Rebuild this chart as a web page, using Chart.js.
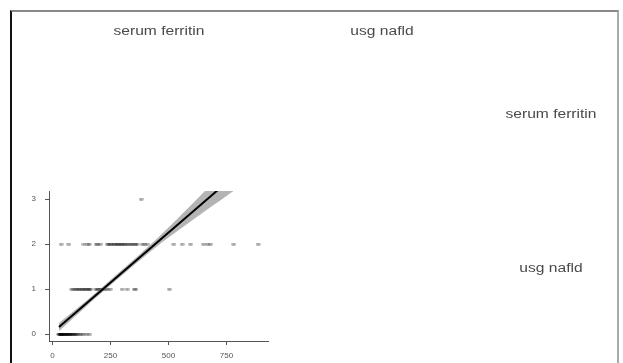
<!DOCTYPE html>
<html>
<head>
<meta charset="utf-8">
<script src="https://cdn.jsdelivr.net/npm/chart.js@4"></script>
<style>
  body { margin: 0; background: #fff; }
  #wrap { position: relative; width: 623px; height: 363px; overflow: hidden; }
  #frame {
    position: absolute; left: 10px; top: 10px; width: 605px; height: 360px;
    border-left: 2px solid #111; border-top: 2px solid #888; border-right: 2px solid #aaa;
  }
  canvas { position: absolute; left: 0; top: 0; }
  .lbl {
    position: absolute; font-family: "Liberation Sans", Arial, sans-serif;
    font-size: 12px; color: #4a4a4a; white-space: nowrap;
    transform: translate(-50%, -50%) scaleX(1.3);
  }
</style>
</head>
<body>
<div id="wrap">
  <div id="frame"></div>
  <canvas id="c" width="623" height="363"></canvas>
  <div class="lbl" style="left:159px; top:31px;">serum ferritin</div>
  <div class="lbl" style="left:382px; top:31px;">usg nafld</div>
  <div class="lbl" style="left:551px; top:114px;">serum ferritin</div>
  <div class="lbl" style="left:551px; top:268px;">usg nafld</div>
</div>
<script>
// serum ferritin values, grouped by usg nafld grade
const ferritinGrade0 = [28, 30, 32, 34, 35, 37, 38, 40, 42, 44, 45, 47, 50, 52, 55, 57, 60, 62, 65, 68, 70, 72, 75, 78, 80, 85, 88, 92, 96, 100, 105, 110, 118, 125, 135, 148, 160];
const ferritinGrade1 = [82, 90, 98, 105, 112, 118, 125, 130, 136, 142, 148, 155, 160, 164, 185, 192, 198, 205, 212, 220, 228, 238, 250, 300, 322, 352, 360, 504];
const ferritinGrade2 = [37, 70, 135, 150, 159, 188, 196, 207, 236, 242, 248, 255, 262, 268, 275, 280, 286, 292, 298, 303, 310, 316, 322, 330, 338, 345, 352, 360, 365, 387, 398, 408, 523, 559, 595, 651, 668, 681, 781, 886];
const ferritinGrade3 = [382];

// linear fit and its confidence band
const fitX = [28, 886];
const fitY = [0.16, 3.97];
const bandX = [28, 150, 300, 450, 600, 750, 886];
const bandLower = [0.07, 0.64, 1.31, 1.95, 2.52, 3.07, 3.56];
const bandUpper = [0.25, 0.76, 1.43, 2.12, 2.88, 3.67, 4.38];

const xTicks = [0, 250, 500, 750];
const yTicks = [0, 1, 2, 3];

// little horizontal ellipse for the points
const dot = document.createElement("canvas");
dot.width = 5; dot.height = 3;
const dctx = dot.getContext("2d");
dctx.fillStyle = "rgba(0,0,0,0.35)";
dctx.beginPath();
dctx.ellipse(2.5, 1.5, 2.5, 1.4, 0, 0, Math.PI * 2);
dctx.fill();

const points = [];
[ferritinGrade0, ferritinGrade1, ferritinGrade2, ferritinGrade3].forEach((arr, grade) => {
  arr.forEach(v => points.push({ x: v, y: grade }));
});

const zip = (xs, ys) => xs.map((x, i) => ({ x: x, y: ys[i] }));

new Chart(document.getElementById("c"), {
  type: "scatter",
  data: {
    datasets: [
      {
        data: points,
        pointStyle: dot,
        pointRadius: 2,
        order: 3
      },
      {
        type: "line",
        data: zip(bandX, bandUpper),
        borderWidth: 0,
        pointRadius: 0,
        backgroundColor: "rgba(130,130,130,0.6)",
        fill: "+1",
        tension: 0.3,
        order: 2
      },
      {
        type: "line",
        data: zip(bandX, bandLower),
        borderWidth: 0,
        pointRadius: 0,
        fill: false,
        tension: 0.3,
        order: 2
      },
      {
        type: "line",
        data: zip(fitX, fitY),
        borderColor: "#000",
        borderWidth: 2,
        pointRadius: 0,
        fill: false,
        order: 1
      }
    ]
  },
  options: {
    responsive: false,
    animation: false,
    layout: { padding: { top: 191, right: 355, left: 0, bottom: 0 } },
    plugins: { legend: { display: false }, tooltip: { enabled: false } },
    scales: {
      x: {
        type: "linear",
        min: -15,
        max: 929,
        afterBuildTicks: s => { s.ticks = xTicks.map(v => ({ value: v })); },
        afterFit: s => { s.height = 22; },
        grid: { drawOnChartArea: false, drawTicks: true, tickLength: 4, color: "#555" },
        border: { display: true, color: "#555", width: 1 },
        ticks: { font: { size: 8, family: "Liberation Sans" }, color: "#555", padding: 6, maxRotation: 0 }
      },
      y: {
        type: "linear",
        min: -0.15,
        max: 3.18,
        afterBuildTicks: s => { s.ticks = yTicks.map(v => ({ value: v })); },
        afterFit: s => { s.width = 49; },
        grid: { drawOnChartArea: false, drawTicks: true, tickLength: 4, color: "#555" },
        border: { display: true, color: "#555", width: 1 },
        ticks: { font: { size: 8, family: "Liberation Sans" }, color: "#555", padding: 9 }
      }
    }
  }
});
</script>
</body>
</html>
